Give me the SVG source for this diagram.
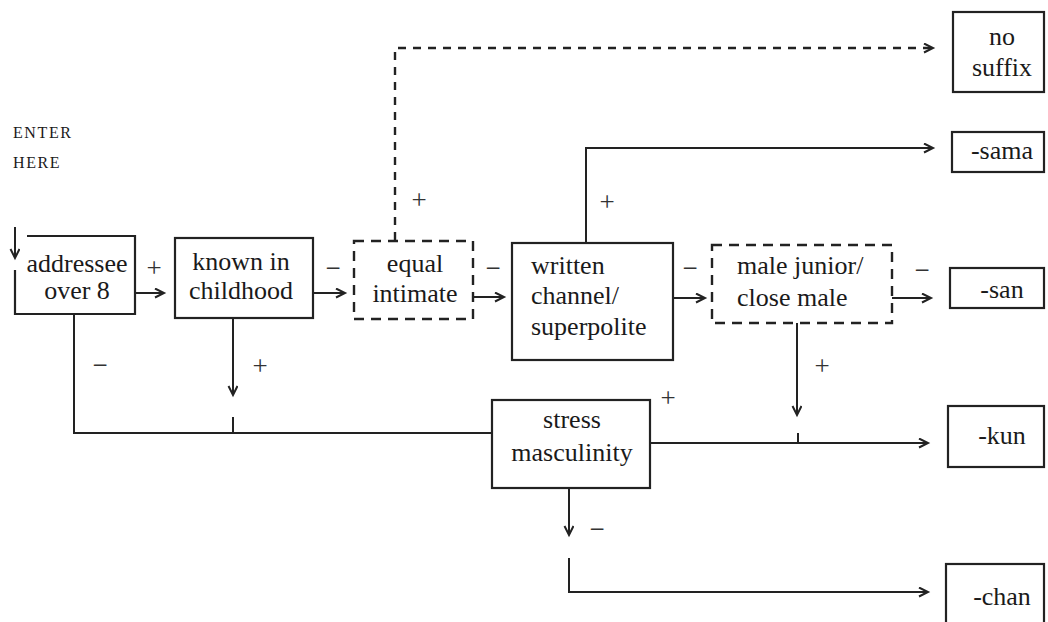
<svg xmlns="http://www.w3.org/2000/svg" width="1048" height="622" viewBox="0 0 1048 622">
  <defs>
    <marker id="arrow" markerUnits="userSpaceOnUse" markerWidth="14" markerHeight="12" refX="10" refY="5" orient="auto">
      <path d="M1,0.5 L10,5 L1,9.5" fill="none" stroke="#222" stroke-width="2"/>
    </marker>
    <style>
      .box { fill: none; stroke: #222; stroke-width: 2.2; }
      .dbox { fill: none; stroke: #222; stroke-width: 2.4; stroke-dasharray: 10 7; }
      .line { fill: none; stroke: #222; stroke-width: 2; }
      .dline { fill: none; stroke: #222; stroke-width: 2.4; stroke-dasharray: 8 7; }
      .lbl { font-family: "Liberation Serif", "Times New Roman", serif; font-size: 26px; fill: #1a1a1a; }
      .mid { text-anchor: middle; }
      .sign { font-family: "Liberation Serif", "Times New Roman", serif; font-size: 27px; fill: #333; text-anchor: middle; }
      .small { font-family: "Liberation Serif", "Times New Roman", serif; font-size: 16px; letter-spacing: 1.6px; fill: #1a1a1a; }
    </style>
  </defs>
  <rect width="1048" height="622" fill="#fff"/>

  <!-- entry note -->
  <g id="enter">
    <text class="small" x="13" y="138">ENTER</text>
    <text class="small" x="13" y="168">HERE</text>
  </g>

  <!-- decision nodes -->
  <g id="addressee">
    <path class="box" d="M27,236 H135 V314 H15 V270"/>
    <text class="lbl mid" x="77" y="272">addressee</text>
    <text class="lbl mid" x="77" y="299">over 8</text>
  </g>
  <g id="known">
    <rect class="box" x="175" y="238" width="138" height="80"/>
    <text class="lbl mid" x="241" y="270">known in</text>
    <text class="lbl mid" x="241" y="299">childhood</text>
  </g>
  <g id="equal">
    <rect class="dbox" x="354" y="241" width="119" height="78"/>
    <text class="lbl mid" x="415" y="272">equal</text>
    <text class="lbl mid" x="415" y="302">intimate</text>
  </g>
  <g id="written">
    <rect class="box" x="512" y="243" width="161" height="117"/>
    <text class="lbl" x="531" y="274">written</text>
    <text class="lbl" x="531" y="304">channel/</text>
    <text class="lbl" x="531" y="335">superpolite</text>
  </g>
  <g id="malejunior">
    <rect class="dbox" x="712" y="245" width="180" height="78"/>
    <text class="lbl" x="737" y="274">male junior/</text>
    <text class="lbl" x="737" y="306">close male</text>
  </g>
  <g id="stress">
    <rect class="box" x="492" y="400" width="158" height="88"/>
    <text class="lbl mid" x="572" y="428">stress</text>
    <text class="lbl mid" x="572" y="461">masculinity</text>
  </g>

  <!-- outcomes -->
  <g id="nosuffix">
    <rect class="box" x="953" y="12" width="91" height="80"/>
    <text class="lbl mid" x="1002" y="45">no</text>
    <text class="lbl mid" x="1002" y="76">suffix</text>
  </g>
  <g id="sama">
    <rect class="box" x="952" y="132" width="92" height="40"/>
    <text class="lbl mid" x="1002" y="159">-sama</text>
  </g>
  <g id="san">
    <rect class="box" x="950" y="268" width="94" height="40"/>
    <text class="lbl mid" x="1002" y="298">-san</text>
  </g>
  <g id="kun">
    <rect class="box" x="948" y="406" width="96" height="61"/>
    <text class="lbl mid" x="1002" y="444">-kun</text>
  </g>
  <g id="chan">
    <rect class="box" x="946" y="564" width="98" height="70"/>
    <text class="lbl mid" x="1002" y="605">-chan</text>
  </g>

  <!-- connectors -->
  <g id="connectors">
    <path class="line" d="M15,227 V258" marker-end="url(#arrow)"/>
    <path class="line" d="M135,293 H164" marker-end="url(#arrow)"/>
    <path class="line" d="M313,293 H345" marker-end="url(#arrow)"/>
    <path class="line" d="M473,297 H504" marker-end="url(#arrow)"/>
    <path class="line" d="M673,298 H705" marker-end="url(#arrow)"/>
    <path class="line" d="M892,298 H931" marker-end="url(#arrow)"/>
    <path class="dline" d="M395,240 V48 H933" marker-end="url(#arrow)"/>
    <path class="line" d="M586,243 V148 H933" marker-end="url(#arrow)"/>
    <path class="line" d="M233,318 V395" marker-end="url(#arrow)"/>
    <path class="line" d="M233,417 V433"/>
    <path class="line" d="M74,314 V433 H492"/>
    <path class="line" d="M797,323 V415" marker-end="url(#arrow)"/>
    <path class="line" d="M798,433 V443"/>
    <path class="line" d="M650,443 H928" marker-end="url(#arrow)"/>
    <path class="line" d="M569,488 V535" marker-end="url(#arrow)"/>
    <path class="line" d="M569,558 V592 H928" marker-end="url(#arrow)"/>

    <!-- branch signs -->
    <text class="sign" x="154" y="277">+</text>
    <text class="sign" x="333" y="277">−</text>
    <text class="sign" x="493" y="277">−</text>
    <text class="sign" x="690" y="277">−</text>
    <text class="sign" x="922" y="279">−</text>
    <text class="sign" x="100" y="374">−</text>
    <text class="sign" x="260" y="375">+</text>
    <text class="sign" x="419" y="209">+</text>
    <text class="sign" x="607" y="211">+</text>
    <text class="sign" x="822" y="375">+</text>
    <text class="sign" x="668" y="407">+</text>
    <text class="sign" x="597" y="538">−</text>
  </g>
</svg>
